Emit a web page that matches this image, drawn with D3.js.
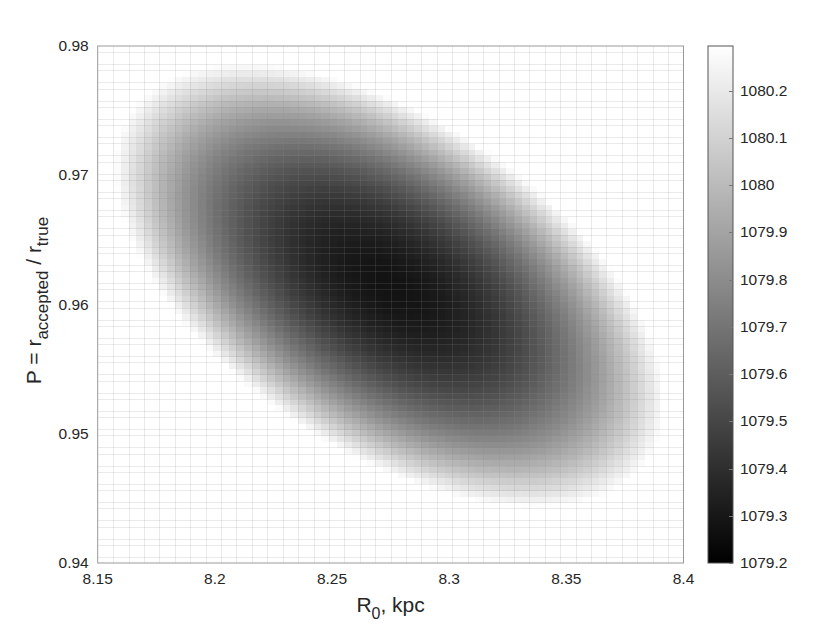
<!DOCTYPE html>
<html>
<head>
<meta charset="utf-8">
<script src="https://cdn.jsdelivr.net/npm/d3@7"></script>
<style>
  body { margin: 0; background: #fff; }
  text { font-family: "Liberation Sans", Arial, Helvetica, sans-serif; fill: #262626; }
</style>
</head>
<body>
<div class="chart"></div>
<script>
// axis ranges and ticks
var r0Range = [8.15, 8.4];
var pRange = [0.94, 0.98];
var r0Ticks = [8.15, 8.2, 8.25, 8.3, 8.35, 8.4];
var pTicks = [0.94, 0.95, 0.96, 0.97, 0.98];
var chi2Ticks = [1079.2, 1079.3, 1079.4, 1079.5, 1079.6, 1079.7, 1079.8, 1079.9, 1080, 1080.1, 1080.2];
var chi2Range = [1079.2, 1080.295];

// scan grid (cells in R0 and P)
var nR0 = 76;
var nP = 85;
var r0Edges = d3.range(nR0 + 1).map(function(i) { return r0Range[0] + i * (r0Range[1] - r0Range[0]) / nR0; });
var pEdges = d3.range(nP + 1).map(function(j) { return pRange[0] + j * (pRange[1] - pRange[0]) / nP; });

// chi-square paraboloid
var chi2Min = 1079.28;
var bestR0 = 8.2745;
var bestP = 0.9615;
var sigmaR0 = 0.1165;
var sigmaP = 0.0170;
var rho = -0.53;

function chi2(r, p) {
	var u = (r - bestR0) / sigmaR0;
	var v = (p - bestP) / sigmaP;
	return chi2Min + (u * u - 2 * rho * u * v + v * v) / (1 - rho * rho);
}

var svgWidth = 830;
var svgHeight = 632;
var plot = { left: 97.7, right: 683.5, top: 46, bottom: 563 };
var bar = { left: 708, right: 733 };

var svg = d3.select('.chart').append('svg')
	.attr('width', svgWidth)
	.attr('height', svgHeight);

var x = d3.scaleLinear().domain(r0Range).range([plot.left, plot.right]);
var y = d3.scaleLinear().domain(pRange).range([plot.bottom, plot.top]);
var color = d3.scaleLinear().domain(chi2Range).range(['#000', '#fff']).clamp(true);

// cells
var cells = [];
for (var i = 0; i < nR0; i++) {
	for (var j = 0; j < nP; j++) {
		cells.push({
			r0: r0Edges[i], r1: r0Edges[i + 1],
			p0: pEdges[j], p1: pEdges[j + 1],
			v: chi2((r0Edges[i] + r0Edges[i + 1]) / 2, (pEdges[j] + pEdges[j + 1]) / 2)
		});
	}
}

svg.append('g')
	.attr('shape-rendering', 'crispEdges')
	.selectAll('rect')
	.data(cells)
	.enter()
	.append('rect')
	.attr('x', function(d) { return x(d.r0); })
	.attr('y', function(d) { return y(d.p1); })
	.attr('width', function(d) { return x(d.r1) - x(d.r0) + 0.5; })
	.attr('height', function(d) { return y(d.p0) - y(d.p1) + 0.5; })
	.attr('fill', function(d) { return color(d.v); });

// faint mesh lines
var mesh = svg.append('g').attr('stroke', '#888').attr('stroke-opacity', 0.18).attr('stroke-width', 1);
mesh.selectAll('line.v')
	.data(r0Edges.filter(function(d, i) { return i > 0 && i < nR0 && i % 2 === 0; }))
	.enter().append('line')
	.attr('x1', function(d) { return Math.round(x(d)) + 0.5; })
	.attr('x2', function(d) { return Math.round(x(d)) + 0.5; })
	.attr('y1', plot.top).attr('y2', plot.bottom);
mesh.selectAll('line.h')
	.data(pEdges.filter(function(d, j) { return j > 0 && j < nP && j % 3 !== 2; }))
	.enter().append('line')
	.attr('y1', function(d) { return Math.round(y(d)) + 0.5; })
	.attr('y2', function(d) { return Math.round(y(d)) + 0.5; })
	.attr('x1', plot.left).attr('x2', plot.right);

// axes box
svg.append('rect')
	.attr('x', plot.left).attr('y', plot.top)
	.attr('width', plot.right - plot.left).attr('height', plot.bottom - plot.top)
	.attr('fill', 'none').attr('stroke', '#999').attr('stroke-width', 1);

// tick labels
svg.append('g').selectAll('text')
	.data(r0Ticks).enter().append('text')
	.attr('x', function(d) { return x(d); })
	.attr('y', plot.bottom + 21)
	.attr('text-anchor', 'middle')
	.style('font-size', '15.5px')
	.text(function(d) { return String(+d.toFixed(2)); });

svg.append('g').selectAll('text')
	.data(pTicks).enter().append('text')
	.attr('x', plot.left - 9)
	.attr('y', function(d) { return y(d) + 5; })
	.attr('text-anchor', 'end')
	.style('font-size', '15.5px')
	.text(function(d) { return String(+d.toFixed(2)); });

// x label
var xl = svg.append('text')
	.attr('x', (plot.left + plot.right) / 2)
	.attr('y', 612)
	.attr('text-anchor', 'middle')
	.style('font-size', '21px');
xl.append('tspan').text('R');
xl.append('tspan').attr('dy', 7).style('font-size', '16px').text('0');
xl.append('tspan').attr('dy', -7).text(', kpc');

// y label
var yl = svg.append('text')
	.attr('transform', 'translate(41,' + ((plot.top + plot.bottom) / 2 - 4) + ') rotate(-90)')
	.attr('text-anchor', 'middle')
	.style('font-size', '21px');
yl.append('tspan').text('P = r');
yl.append('tspan').attr('dy', 7).style('font-size', '17px').text('accepted');
yl.append('tspan').attr('dy', -7).text(' / r');
yl.append('tspan').attr('dy', 7).style('font-size', '17px').text('true');

// colorbar
var cy = d3.scaleLinear().domain(chi2Range).range([plot.bottom, plot.top]);
var grad = svg.append('defs').append('linearGradient')
	.attr('id', 'cbar').attr('x1', 0).attr('y1', 1).attr('x2', 0).attr('y2', 0);
grad.append('stop').attr('offset', 0).attr('stop-color', '#000');
grad.append('stop').attr('offset', 1).attr('stop-color', '#fff');

svg.append('rect')
	.attr('x', bar.left).attr('y', plot.top)
	.attr('width', bar.right - bar.left).attr('height', plot.bottom - plot.top)
	.attr('fill', 'url(#cbar)')
	.attr('stroke', '#555').attr('stroke-width', 1);

var cAxis = svg.append('g');
cAxis.selectAll('line')
	.data(chi2Ticks).enter().append('line')
	.attr('x1', bar.right - 4).attr('x2', bar.right)
	.attr('y1', function(d) { return Math.round(cy(d)) + 0.5; })
	.attr('y2', function(d) { return Math.round(cy(d)) + 0.5; })
	.attr('stroke', '#777');
cAxis.selectAll('text')
	.data(chi2Ticks).enter().append('text')
	.attr('x', bar.right + 7)
	.attr('y', function(d) { return cy(d) + 5; })
	.style('font-size', '15.5px')
	.text(function(d) { return String(+d.toFixed(1)); });
</script>
</body>
</html>
